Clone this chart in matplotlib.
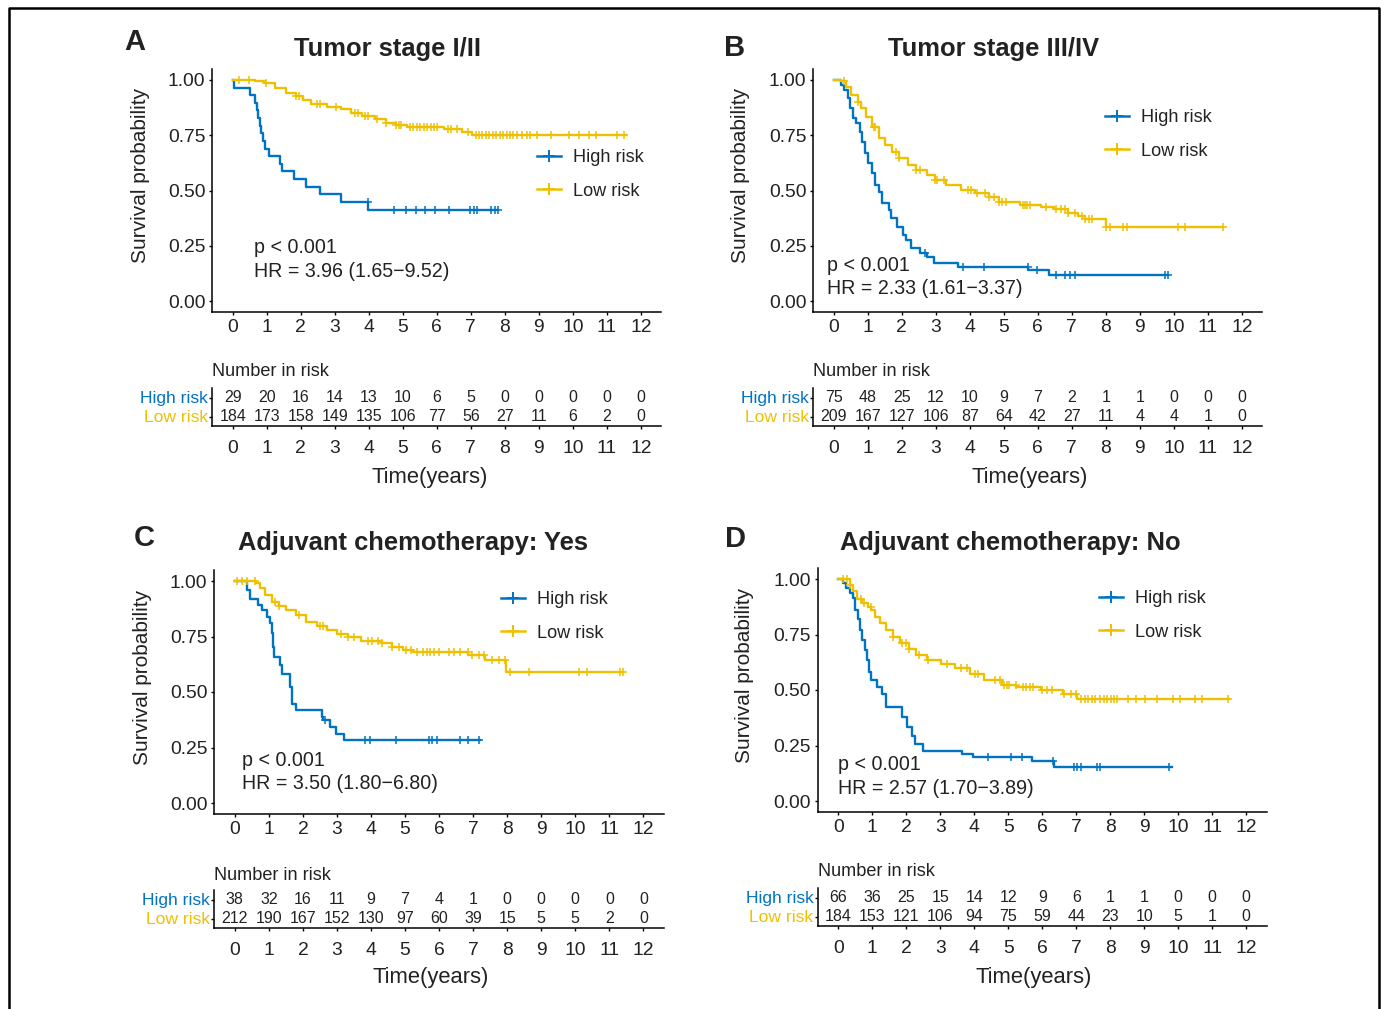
import numpy as np
import matplotlib
matplotlib.use("Agg")
import matplotlib.pyplot as plt
from matplotlib.lines import Line2D

plt.rcParams['font.family'] = ['Liberation Sans', 'DejaVu Sans']

W, H = 1384, 1009
BLUE = '#0073C2'
GOLD = '#EFC000'
INK = '#222222'
years = np.arange(0, 13)

# ---- panel A : tumor stage I/II ----
a_hi_t = [0, 0.03, 0.52, 0.64, 0.70, 0.74, 0.79, 0.82, 0.89, 0.94, 1.05, 1.40, 1.45, 1.81, 2.16, 2.55, 3.18, 3.99, 7.80]
a_hi_s = [1.0, 0.966, 0.931, 0.897, 0.862, 0.828, 0.793, 0.759, 0.724, 0.690, 0.655, 0.621, 0.586, 0.552, 0.517, 0.483, 0.448, 0.410, 0.410]
a_hi_c = [3.97, 4.75, 5.09, 5.39, 5.66, 5.94, 6.35, 6.98, 7.09, 7.19, 7.59, 7.70, 7.80]
a_lo_t = [0, 0.64, 0.94, 1.25, 1.55, 1.86, 2.06, 2.31, 2.77, 3.18, 3.48, 3.79, 4.19, 4.50, 4.80, 5.11, 6.22, 6.73, 7.04, 11.55]
a_lo_s = [1.0, 0.995, 0.985, 0.962, 0.943, 0.928, 0.910, 0.890, 0.880, 0.867, 0.852, 0.837, 0.822, 0.807, 0.796, 0.789, 0.777, 0.766, 0.751, 0.751]
a_lo_c = [0.18, 0.49, 0.99, 1.86, 1.96, 2.47, 2.55, 3.03, 3.58, 3.69, 3.89, 3.99, 4.24, 4.50, 4.80, 4.90, 4.95,
          5.21, 5.31, 5.41, 5.51, 5.61, 5.72, 5.82, 5.92, 6.02, 6.32, 6.43, 6.58, 6.93, 7.14, 7.24, 7.34, 7.44,
          7.54, 7.64, 7.75, 7.85, 7.95, 8.05, 8.15, 8.25, 8.35, 8.50, 8.66, 8.75, 8.96, 9.37, 9.88, 10.18,
          10.49, 10.69, 11.30, 11.50]
a_risk_hi = [29, 20, 16, 14, 13, 10, 6, 5, 0, 0, 0, 0, 0]
a_risk_lo = [184, 173, 158, 149, 135, 106, 77, 56, 27, 11, 6, 2, 0]

# ---- panel B : tumor stage III/IV ----
b_hi_t = [0, 0.20, 0.30, 0.43, 0.49, 0.56, 0.66, 0.76, 0.83, 0.91, 1.01, 1.11, 1.22, 1.34, 1.42, 1.62, 1.67,
          1.87, 2.03, 2.13, 2.28, 2.53, 2.74, 2.94, 3.65, 5.72, 6.33, 9.83]
b_hi_s = [1.0, 0.977, 0.955, 0.917, 0.872, 0.827, 0.804, 0.766, 0.721, 0.668, 0.623, 0.578, 0.525, 0.495, 0.442,
          0.412, 0.374, 0.336, 0.299, 0.276, 0.238, 0.216, 0.197, 0.173, 0.155, 0.140, 0.118, 0.118]
b_hi_c = [2.68, 3.80, 4.41, 5.70, 5.98, 6.53, 6.79, 6.94, 7.09, 9.73, 9.83]
b_lo_t = [0, 0.20, 0.35, 0.51, 0.71, 0.81, 0.96, 1.11, 1.32, 1.52, 1.72, 1.93, 2.18, 2.43, 2.74, 2.99, 3.29,
          3.75, 4.15, 4.56, 4.86, 5.47, 6.08, 6.48, 6.89, 7.19, 7.40, 8.00, 11.45]
b_lo_s = [1.0, 0.995, 0.970, 0.932, 0.902, 0.872, 0.834, 0.789, 0.736, 0.706, 0.676, 0.646, 0.615, 0.593, 0.570,
          0.548, 0.525, 0.502, 0.490, 0.472, 0.449, 0.434, 0.427, 0.415, 0.400, 0.385, 0.370, 0.333, 0.333]
b_lo_c = [0.30, 0.71, 1.17, 1.22, 1.82, 1.93, 2.43, 2.53, 2.99, 3.04, 3.24, 3.95, 4.05, 4.20, 4.46, 4.56, 4.71,
          4.86, 4.96, 5.07, 5.57, 5.62, 5.67, 5.78, 6.23, 6.53, 6.69, 6.79, 6.89, 7.09, 7.29, 7.40, 7.50, 7.60,
          8.02, 8.11, 8.51, 8.61, 10.13, 10.33, 11.45]
b_risk_hi = [75, 48, 25, 12, 10, 9, 7, 2, 1, 1, 0, 0, 0]
b_risk_lo = [209, 167, 127, 106, 87, 64, 42, 27, 11, 4, 4, 1, 0]

# ---- panel C : adjuvant chemotherapy yes ----
c_hi_t = [0, 0.37, 0.46, 0.68, 0.80, 0.96, 1.03, 1.08, 1.13, 1.16, 1.34, 1.39, 1.61, 1.67, 1.79, 2.55, 2.60,
          2.81, 2.96, 3.21, 7.21]
c_hi_s = [1.0, 0.959, 0.919, 0.892, 0.869, 0.839, 0.809, 0.764, 0.704, 0.659, 0.621, 0.579, 0.523, 0.448, 0.418,
          0.388, 0.373, 0.343, 0.313, 0.283, 0.283]
c_hi_c = [2.65, 3.82, 3.97, 4.73, 5.69, 5.79, 5.94, 6.60, 6.86, 7.16]
c_lo_t = [0, 0.63, 0.73, 0.88, 1.08, 1.29, 1.49, 1.79, 2.10, 2.40, 2.70, 3.01, 3.31, 3.72, 4.32, 4.63, 4.93,
          5.24, 6.86, 7.36, 7.97, 11.41]
c_lo_s = [1.0, 0.990, 0.967, 0.937, 0.907, 0.887, 0.869, 0.847, 0.817, 0.797, 0.779, 0.761, 0.746, 0.731, 0.719,
          0.704, 0.689, 0.681, 0.666, 0.644, 0.591, 0.591]
c_lo_c = [0.07, 0.22, 0.37, 0.58, 1.18, 1.29, 1.89, 2.50, 2.60, 3.11, 3.31, 3.51, 3.92, 4.02, 4.22, 4.32, 4.63,
          4.83, 5.03, 5.18, 5.34, 5.54, 5.64, 5.74, 5.84, 5.99, 6.30, 6.45, 6.60, 6.84, 6.96, 7.16, 7.31, 7.56,
          7.77, 7.95, 8.07, 8.63, 10.10, 10.35, 11.31, 11.41]
c_risk_hi = [38, 32, 16, 11, 9, 7, 4, 1, 0, 0, 0, 0, 0]
c_risk_lo = [212, 190, 167, 152, 130, 97, 60, 39, 15, 5, 5, 2, 0]

# ---- panel D : adjuvant chemotherapy no ----
d_hi_t = [0, 0.13, 0.23, 0.34, 0.44, 0.49, 0.58, 0.65, 0.71, 0.79, 0.83, 0.89, 0.97, 1.13, 1.28, 1.39, 1.86,
          2.02, 2.18, 2.26, 2.49, 3.65, 3.97, 5.71, 6.34, 9.81]
d_hi_s = [1.0, 0.982, 0.959, 0.937, 0.914, 0.861, 0.819, 0.770, 0.725, 0.680, 0.634, 0.582, 0.544, 0.514, 0.483,
          0.423, 0.378, 0.332, 0.295, 0.257, 0.227, 0.211, 0.196, 0.178, 0.151, 0.151]
d_hi_c = [4.39, 5.07, 5.41, 6.32, 6.93, 7.03, 7.15, 7.61, 7.71, 9.74]
d_lo_t = [0, 0.34, 0.44, 0.55, 0.71, 0.86, 0.97, 1.07, 1.23, 1.39, 1.60, 1.81, 2.07, 2.28, 2.60, 3.02, 3.44,
          3.86, 4.28, 4.81, 5.23, 5.97, 6.60, 7.02, 11.49]
d_lo_s = [1.0, 0.974, 0.944, 0.909, 0.894, 0.876, 0.861, 0.831, 0.801, 0.770, 0.740, 0.710, 0.683, 0.657, 0.634,
          0.616, 0.597, 0.574, 0.544, 0.521, 0.514, 0.498, 0.480, 0.461, 0.461]
d_lo_c = [0.15, 0.25, 0.35, 0.66, 0.76, 0.96, 1.62, 1.88, 1.98, 2.08, 2.38, 2.64, 3.19, 3.60, 3.80, 4.01, 4.11,
          4.61, 4.77, 4.87, 4.97, 5.02, 5.22, 5.43, 5.53, 5.63, 5.73, 5.98, 6.14, 6.29, 6.64, 6.85, 7.00, 7.15,
          7.25, 7.35, 7.45, 7.56, 7.71, 7.81, 7.91, 8.01, 8.11, 8.21, 8.52, 8.77, 9.03, 9.38, 9.84, 10.04,
          10.50, 10.70, 11.46]
d_risk_hi = [66, 36, 25, 15, 14, 12, 9, 6, 1, 1, 0, 0, 0]
d_risk_lo = [184, 153, 121, 106, 94, 75, 59, 44, 23, 10, 5, 1, 0]

titles = ['Tumor stage I/II', 'Tumor stage III/IV', 'Adjuvant chemotherapy: Yes', 'Adjuvant chemotherapy: No']
letters = ['A', 'B', 'C', 'D']
hr_text = ['HR = 3.96 (1.65\u22129.52)', 'HR = 2.33 (1.61\u22123.37)',
           'HR = 3.50 (1.80\u22126.80)', 'HR = 2.57 (1.70\u22123.89)']
p_text = 'p < 0.001'
p_pos = [(0.62, 0.242, 0.135), (-0.21, 0.160, 0.057), (0.22, 0.193, 0.088), (0.0, 0.163, 0.057)]

curves = [
    ((a_hi_t, a_hi_s, a_hi_c), (a_lo_t, a_lo_s, a_lo_c), a_risk_hi, a_risk_lo),
    ((b_hi_t, b_hi_s, b_hi_c), (b_lo_t, b_lo_s, b_lo_c), b_risk_hi, b_risk_lo),
    ((c_hi_t, c_hi_s, c_hi_c), (c_lo_t, c_lo_s, c_lo_c), c_risk_hi, c_risk_lo),
    ((d_hi_t, d_hi_s, d_hi_c), (d_lo_t, d_lo_s, d_lo_c), d_risk_hi, d_risk_lo),
]

# layout in pixels: x of t=0, px per year, y of S=1, y of S=0, table top,
# letter, title, ylabel, "Number in risk" y, xlabel, legend (left, first row y)
layout = [
    dict(x0=232.8, ppy=34.0, y1=80, y0=301, tab=388, letter=(135, 42), title=(387, 49), ylab=(141, 175),
         nir=372, xlab=(430, 478), leg=(537, 156)),
    dict(x0=833.8, ppy=34.0, y1=80, y0=301, tab=388, letter=(735, 48), title=(994, 49), ylab=(741, 175),
         nir=372, xlab=(1030, 478), leg=(1105, 116)),
    dict(x0=234.8, ppy=34.05, y1=581, y0=803, tab=890, letter=(144, 538), title=(413, 543), ylab=(143, 677),
         nir=875, xlab=(431, 978), leg=(501, 598)),
    dict(x0=838.3, ppy=34.0, y1=579, y0=801, tab=888, letter=(736, 539), title=(1010, 543), ylab=(745, 675),
         nir=872, xlab=(1034, 978), leg=(1099, 597)),
]


def fig_rect(left, top, right, bottom):
    return [left / W, 1 - bottom / H, (right - left) / W, (bottom - top) / H]


def surv_at(t, s, x):
    idx = np.searchsorted(t, x, side='right') - 1
    return np.asarray(s)[idx]


def style_axis(ax):
    for sp in ['top', 'right']:
        ax.spines[sp].set_visible(False)
    for sp in ['left', 'bottom']:
        ax.spines[sp].set_linewidth(1.1)
        ax.spines[sp].set_color('black')
    ax.tick_params(length=2.4, width=1.0, color='black', labelcolor=INK)


fig = plt.figure(figsize=(W / 100, H / 100), dpi=100)

for i in range(4):
    hi, lo, r_hi, r_lo = curves[i]
    g = layout[i]
    x0, ppy, y1, y0 = g['x0'], g['ppy'], g['y1'], g['y0']
    left, right = x0 - 0.6 * ppy, x0 + 12.6 * ppy
    pad_y = 0.05 * (y0 - y1)

    ax = fig.add_axes(fig_rect(left, y1 - pad_y, right, y0 + pad_y))
    ax.set_xlim(-0.6, 12.6)
    ax.set_ylim(-0.05, 1.05)
    for (t, s, c), col in ((hi, BLUE), (lo, GOLD)):
        ax.step(t, s, where='post', color=col, lw=1.7)
        ax.plot(c, surv_at(t, s, c), ls='none', marker='+', ms=6, mew=1.1, color=col)
    ax.set_xticks(years)
    ax.set_yticks([0, 0.25, 0.5, 0.75, 1.0])
    ax.set_yticklabels(['0.00', '0.25', '0.50', '0.75', '1.00'])
    style_axis(ax)
    ax.tick_params(labelsize=13.9, pad=2.6)

    px, py, phr = p_pos[i]
    ax.text(px, py, p_text, fontsize=14.1, color=INK, va='center', ha='left')
    ax.text(px, phr, hr_text[i], fontsize=14.1, color=INK, va='center', ha='left')

    handles = [Line2D([], [], color=BLUE, lw=1.8, marker='+', ms=9, mew=1.4),
               Line2D([], [], color=GOLD, lw=1.8, marker='+', ms=9, mew=1.4)]
    lx, ly = g['leg']
    ax.legend(handles, ['High risk', 'Low risk'], loc='upper left',
              bbox_to_anchor=(lx / W, 1 - (ly - 7) / H), bbox_transform=fig.transFigure,
              frameon=False, fontsize=13.1, numpoints=1, handlelength=1.32, handletextpad=0.66,
              labelspacing=0.92, borderpad=0, borderaxespad=0, labelcolor=INK)

    # risk table
    tx = fig.add_axes(fig_rect(left, g['tab'], right, g['tab'] + 38))
    tx.set_xlim(-0.6, 12.6)
    tx.set_ylim(0.5, 2.5)
    for row, vals in ((2, r_hi), (1, r_lo)):
        for x, v in zip(years, vals):
            tx.text(x, row, str(v), ha='center', va='center', fontsize=11.5, color=INK)
    tx.set_xticks(years)
    tx.set_yticks([1, 2])
    tx.set_yticklabels(['Low risk', 'High risk'])
    style_axis(tx)
    tx.tick_params(axis='x', labelsize=13.9, pad=8.0)
    tx.tick_params(axis='y', labelsize=12.6, pad=0.8)
    for lab, col in zip(tx.get_yticklabels(), [GOLD, BLUE]):
        lab.set_color(col)

    fig.text(left / W, 1 - g['nir'] / H, 'Number in risk', fontsize=13.1, color=INK, ha='left', va='center')
    xl, yl = g['xlab']
    fig.text(xl / W, 1 - yl / H, 'Time(years)', fontsize=15.8, color=INK, ha='center', va='center')
    xl, yl = g['ylab']
    fig.text(xl / W, 1 - yl / H, 'Survival probability', fontsize=15.0, color=INK,
             ha='center', va='center', rotation=90)
    xl, yl = g['title']
    fig.text(xl / W, 1 - yl / H, titles[i], fontsize=18.4, fontweight='bold', color=INK,
             ha='center', va='center')
    xl, yl = g['letter']
    fig.text(xl / W, 1 - yl / H, letters[i], fontsize=21, fontweight='bold', color=INK,
             ha='center', va='center')

# outer frame (left, top, right edges)
fig.add_artist(Line2D([9 / W, 9 / W, 1379 / W, 1379 / W], [0, 1 - 8 / H, 1 - 8 / H, 0],
                      transform=fig.transFigure, color='black', lw=1.8))

fig.savefig('out.png', dpi=100)
